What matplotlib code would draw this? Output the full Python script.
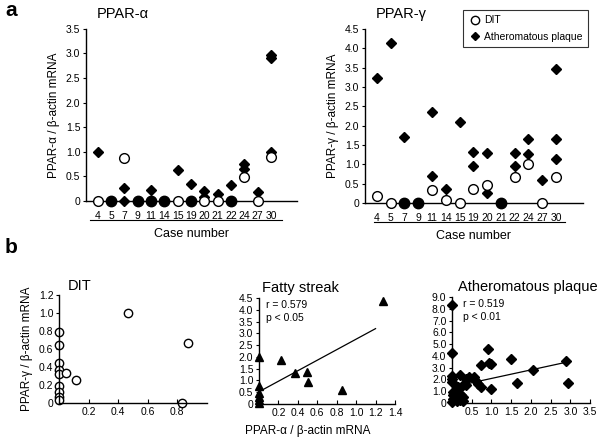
import numpy as np
import matplotlib
matplotlib.use('Agg')
import matplotlib.pyplot as plt
from matplotlib.ticker import FuncFormatter
from matplotlib.lines import Line2D

plt.rcParams['font.family'] = ['Liberation Sans', 'DejaVu Sans']

# ---- panel a: values per case ----
cases = ['4', '5', '7', '9', '11', '14', '15', '19', '20', '21', '22', '24', '27', '30']

alpha_dit = [0, 0, 0.87, 0, 0, 0, 0, 0, 0, 0, 0, 0.49, 0, 0.90]
alpha_plaque = [[1.0], [0], [0.27, 0], [0], [0.22, 0], [0], [0.63], [0.35, 0],
                [0.20, 0.09], [0.14], [0.32, 0], [0.75, 0.66], [0.19], [2.96, 2.91, 1.0]]

gamma_dit = [0.17, 0, 0, 0, 0.33, 0.09, 0, 0.37, 0.46, 0, 0.67, 1.0, 0, 0.67]
gamma_plaque = [[3.24], [4.15], [1.70, 0], [0], [2.36, 0.69], [0.36], [2.10], [1.33, 0.96],
                [1.29, 0.26], [0], [1.29, 0.97], [1.66, 1.27], [0.59], [3.47, 1.65, 1.13]]

# ---- panel b: PPAR-alpha (x) vs PPAR-gamma (y) ----
dit_x = [0, 0, 0, 0, 0, 0, 0, 0, 0, 0.05, 0.115, 0.465, 0.87, 0.83]
dit_y = [0.79, 0.65, 0.45, 0.37, 0.32, 0.19, 0.12, 0.07, 0.03, 0.33, 0.26, 1.0, 0.67, 0.0]

fatty_x = [0, 0, 0, 0, 0, 0, 0.23, 0.37, 0.49, 0.50, 0.85, 1.28]
fatty_y = [2.0, 0.75, 0.45, 0.30, 0.15, 0.03, 1.85, 1.30, 1.35, 0.95, 0.60, 4.38]
fatty_fit_x = [0, 1.2]
fatty_fit_y = [0.52, 3.2]

ath_x = [0, 0, 0, 0, 0.90, 0.73, 0.94, 0.98, 1.50, 2.90, 2.05, 1.65, 2.93, 0.98,
         0, 0.20, 0.36, 0.44, 0.55, 0.61, 0.67, 0.73, 0.26, 0.35, 0.16, 0.02, 0.02,
         0.10, 0.24, 0.28, 0.02, 0.12, 0.20, 0.28, 0]
ath_y = [8.3, 4.27, 2.3, 1.8, 4.6, 3.2, 3.4, 3.3, 3.75, 3.55, 2.8, 1.7, 1.7, 1.15,
         2.05, 2.36, 2.0, 2.17, 2.17, 1.88, 1.6, 1.38, 1.43, 1.52, 1.32, 0.95, 0.7,
         0.82, 0.68, 0.53, 0.3, 0.17, 0.25, 0.17, 0.06]
ath_fit_x = [0, 2.95]
ath_fit_y = [1.36, 3.5]


def fmt(v, pos):
    return '0' if abs(v) < 1e-9 else '%.1f' % v


def style(ax):
    for s in ['top', 'right']:
        ax.spines[s].set_visible(False)
    for s in ['left', 'bottom']:
        ax.spines[s].set_linewidth(1.0)
    ax.tick_params(axis='y', direction='out', length=2, labelsize=7.5, pad=2)
    ax.tick_params(axis='x', direction='in', length=3, labelsize=7.5, pad=3)
    ax.yaxis.set_major_formatter(FuncFormatter(fmt))


def case_panel(ax, dit, plaque, ymax, title, ylab):
    pos = np.arange(len(cases))
    for i, vals in enumerate(plaque):
        ax.plot([pos[i]] * len(vals), vals, 'D', color='black', ms=4.8, clip_on=False, zorder=3)
    for i, v in enumerate(dit):
        filled = v == 0 and 0 in plaque[i]
        ax.plot(pos[i], v, 'o', ms=7.5 if filled else 7, mec='black', mew=1.0,
                mfc='black' if filled else 'white', clip_on=False, zorder=4)
    ax.set_xlim(-0.88, 14.95)
    ax.set_ylim(0, ymax)
    ax.set_xticks(pos)
    ax.set_xticklabels(cases)
    ax.set_yticks(np.arange(0, ymax + 0.01, 0.5))
    style(ax)
    ax.tick_params(axis='x', length=0, pad=7)
    ax.set_ylabel(ylab, fontsize=8.5, labelpad=4)
    ax.set_xlabel('Case number', fontsize=9, labelpad=5)
    ax.text(0.05, 1.045, title, transform=ax.transAxes, fontsize=10.5, ha='left', va='bottom')


fig = plt.figure(figsize=(6.03, 4.38), dpi=100)

ax1 = fig.add_axes([0.1426, 0.541, 0.350, 0.393])
case_panel(ax1, alpha_dit, alpha_plaque, 3.5, 'PPAR-α', 'PPAR-α / β-actin mRNA')

ax2 = fig.add_axes([0.605, 0.5365, 0.3615, 0.397])
case_panel(ax2, gamma_dit, gamma_plaque, 4.5, 'PPAR-γ', 'PPAR-γ / β-actin mRNA')

# underline below case labels
fig.add_artist(Line2D([90 / 603, 282 / 603], [1 - 220 / 438] * 2, color='black', lw=0.8))
fig.add_artist(Line2D([374 / 603, 565 / 603], [1 - 222 / 438] * 2, color='black', lw=0.8))

handles = [Line2D([], [], marker='o', ls='', ms=6, mfc='white', mec='black', mew=1.0),
           Line2D([], [], marker='D', ls='', ms=4, color='black')]
leg = fig.legend(handles, ['DIT', 'Atheromatous plaque'], loc='upper left',
                 bbox_to_anchor=(458 / 603, 1 - 5 / 438), fontsize=7.5, frameon=True,
                 fancybox=False, edgecolor='black', borderpad=0.5, handletextpad=0.3,
                 handlelength=1.2, labelspacing=0.6)
leg.get_frame().set_linewidth(0.8)

# panel b
ax3 = fig.add_axes([0.0978, 0.0799, 0.245, 0.246])
ax3.plot(dit_x, dit_y, 'o', ms=6, mfc='white', mec='black', mew=1.0, clip_on=False)
ax3.set_xlim(0, 1.0)
ax3.set_ylim(0, 1.2)
ax3.set_xticks([0.2, 0.4, 0.6, 0.8])
ax3.set_yticks(np.arange(0, 1.21, 0.2))
style(ax3)
ax3.set_ylabel('PPAR-γ / β-actin mRNA', fontsize=8.5, labelpad=4)
ax3.text(0.06, 1.02, 'DIT', transform=ax3.transAxes, fontsize=10.5, ha='left', va='bottom')

ax4 = fig.add_axes([0.4295, 0.0776, 0.2255, 0.242])
ax4.plot(fatty_x, fatty_y, '^', ms=6, color='black', clip_on=False)
ax4.plot(fatty_fit_x, fatty_fit_y, color='black', lw=0.9)
ax4.set_xlim(0, 1.4)
ax4.set_ylim(0, 4.5)
ax4.set_xticks(np.arange(0.2, 1.41, 0.2))
ax4.set_yticks(np.arange(0, 4.51, 0.5))
style(ax4)
ax4.text(0.02, 1.03, 'Fatty streak', transform=ax4.transAxes, fontsize=10.5, ha='left', va='bottom')
ax4.text(0.05, 0.93, 'r = 0.579', transform=ax4.transAxes, fontsize=7.5, ha='left', va='center')
ax4.text(0.05, 0.81, 'p < 0.05', transform=ax4.transAxes, fontsize=7.5, ha='left', va='center')

ax5 = fig.add_axes([0.7496, 0.0799, 0.229, 0.242])
ax5.plot(ath_x, ath_y, 'D', ms=5, color='black', clip_on=False)
ax5.plot(ath_fit_x, ath_fit_y, color='black', lw=0.9)
ax5.set_xlim(0, 3.5)
ax5.set_ylim(0, 9.0)
ax5.set_xticks(np.arange(0.5, 3.51, 0.5))
ax5.set_yticks(np.arange(0, 9.01, 1.0))
style(ax5)
ax5.text(0.04, 1.03, 'Atheromatous plaque', transform=ax5.transAxes, fontsize=10.5, ha='left', va='bottom')
ax5.text(0.08, 0.93, 'r = 0.519', transform=ax5.transAxes, fontsize=7.5, ha='left', va='center')
ax5.text(0.08, 0.81, 'p < 0.01', transform=ax5.transAxes, fontsize=7.5, ha='left', va='center')

fig.text(308 / 603, 1 / 438, 'PPAR-α / β-actin mRNA', fontsize=8.5, ha='center', va='bottom')

fig.text(5 / 603, 1 - 1 / 438, 'a', fontsize=15, fontweight='bold', ha='left', va='top')
fig.text(5 / 603, 1 - 238 / 438, 'b', fontsize=15, fontweight='bold', ha='left', va='top')

fig.savefig('out.png', dpi=100)
plt.close()
